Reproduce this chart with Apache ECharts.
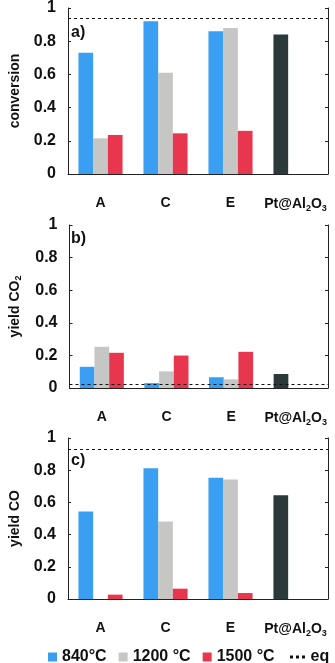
<!DOCTYPE html>
<html><head><meta charset="utf-8">
<script src="https://cdn.jsdelivr.net/npm/echarts@6/dist/echarts.min.js"></script>
<style>html,body{margin:0;padding:0;background:#fff}#c{width:335px;height:663px}</style>
</head><body><div id="c"></div>
<script>
const categories = ['A', 'C', 'E', 'Pt@Al2O3'];
const yTicks = [0, 0.2, 0.4, 0.6, 0.8, 1];
const seriesNames = ['840°C', '1200 °C', '1500 °C'];
// panel a) conversion
const convT840 = [0.73, 0.92, 0.86, 0.84];
const convT1200 = [0.215, 0.61, 0.88];
const convT1500 = [0.235, 0.245, 0.26];
const convEq = 0.935;
// panel b) yield CO2
const co2T840 = [0.13, 0.03, 0.066, 0.086];
const co2T1200 = [0.253, 0.102, 0.053];
const co2T1500 = [0.216, 0.199, 0.222];
const co2Eq = 0.02;
// panel c) yield CO
const coT840 = [0.544, 0.812, 0.753, 0.645];
const coT1200 = [0, 0.482, 0.742];
const coT1500 = [0.027, 0.064, 0.037];
const coEq = 0.926;
const panelLabels = ['a)', 'b)', 'c)'];

const FONT = 'Liberation Sans';
const BLUE = '#3a9ef2', GRAY = '#c6c6c4', RED = '#e8364f', DARK = '#2b393b';
const grids = [
  {left: 62, right: 7, top: 8, height: 166},
  {left: 62, right: 7, top: 225, height: 163},
  {left: 62, right: 7, top: 438, height: 161}
];
const yNames = ['conversion', 'yield CO{s|2}', 'yield CO'];
const panels = [
  [convT840, convT1200, convT1500, convEq],
  [co2T840, co2T1200, co2T1500, co2Eq],
  [coT840, coT1200, coT1500, coEq]
];
const axisColor = '#222';
const xAxes = [], yAxes = [], series = [], graphics = [];
panels.forEach((p, i) => {
  xAxes.push({
    type: 'category', gridIndex: i, data: categories,
    axisLine: {lineStyle: {color: axisColor, width: 1}},
    axisTick: {inside: true, length: 3, lineStyle: {color: axisColor}},
    axisLabel: {
      interval: 0, margin: 22, color: '#111', fontFamily: FONT, fontWeight: 'bold', fontSize: 14,
      formatter: v => v === 'Pt@Al2O3' ? 'Pt@Al{s|2}O{s|3}' : v,
      rich: {s: {fontSize: 9, fontWeight: 'bold', fontFamily: FONT, color: '#111', padding: [8, 0, 0, 0]}}
    }
  });
  yAxes.push({
    type: 'value', gridIndex: i, min: 0, max: 1, interval: 0.2, position: 'left',
    name: yNames[i], nameLocation: 'middle', nameGap: 46,
    nameTextStyle: {color: '#111', fontFamily: FONT, fontWeight: 'bold', fontSize: 14,
      rich: {s: {fontSize: 9, fontWeight: 'bold', fontFamily: FONT, color: '#111', padding: [8, 0, 0, 0]}}},
    axisLine: {show: true, lineStyle: {color: axisColor, width: 1}},
    axisTick: {show: true, inside: true, length: 3, lineStyle: {color: axisColor}},
    axisLabel: {margin: 12, color: '#111', fontFamily: FONT, fontWeight: 'bold', fontSize: 16},
    splitLine: {show: false}
  });
  yAxes.push({
    type: 'value', gridIndex: i, min: 0, max: 1, interval: 0.2, position: 'right',
    axisLine: {show: true, lineStyle: {color: axisColor, width: 1}},
    axisTick: {show: true, inside: true, length: 3, lineStyle: {color: axisColor}},
    axisLabel: {show: false}, splitLine: {show: false}
  });
  const [d840, d1200, d1500, eq] = p;
  const yi = i * 2;
  series.push({
    name: seriesNames[0], type: 'bar', xAxisIndex: i, yAxisIndex: yi,
    barWidth: 14.7, barGap: '0%', itemStyle: {color: BLUE},
    data: d840.map((v, k) => k === 3 ? {value: v, itemStyle: {color: DARK}} : v)
  });
  series.push({name: seriesNames[1], type: 'bar', xAxisIndex: i, yAxisIndex: yi,
    barWidth: 14.7, barGap: '0%', itemStyle: {color: GRAY}, data: d1200});
  series.push({name: seriesNames[2], type: 'bar', xAxisIndex: i, yAxisIndex: yi,
    barWidth: 14.7, barGap: '0%', itemStyle: {color: RED}, data: d1500});
  series.push({
    name: 'eq', type: 'line', xAxisIndex: i, yAxisIndex: yi, data: [],
    lineStyle: {color: '#111', type: [3, 3], width: 1}, itemStyle: {color: '#111'},
    markLine: {silent: true, symbol: 'none', label: {show: false},
      lineStyle: {color: '#111', type: [3, 3], width: 1}, data: [{yAxis: eq}]}
  });
  graphics.push({type: 'text', left: 71, top: grids[i].top + [17, 6, 15][i],
    style: {text: panelLabels[i], fontFamily: FONT, fontWeight: 'bold', fontSize: 16, fill: '#111'}});
});

const chart = echarts.init(document.getElementById('c'), null, {renderer: 'canvas'});
chart.setOption({
  animation: false,
  grid: grids,
  xAxis: xAxes, yAxis: yAxes, series: series, graphic: graphics,
  legend: [
    {data: seriesNames.map(n => ({name: n, icon: 'rect'})), left: 43, top: 644,
      itemWidth: 9, itemHeight: 9, itemGap: 12, selectedMode: false,
      textStyle: {color: '#111', fontFamily: FONT, fontWeight: 'bold', fontSize: 16}},
    {data: [{name: 'eq', icon: 'path://M0,0h3v3h-3zM6,0h3v3h-3zM12,0h3v3h-3z'}], left: 285, top: 644,
      itemWidth: 16, itemHeight: 3, selectedMode: false,
      textStyle: {color: '#111', fontFamily: FONT, fontWeight: 'bold', fontSize: 16}}
  ]
});
</script></body></html>
